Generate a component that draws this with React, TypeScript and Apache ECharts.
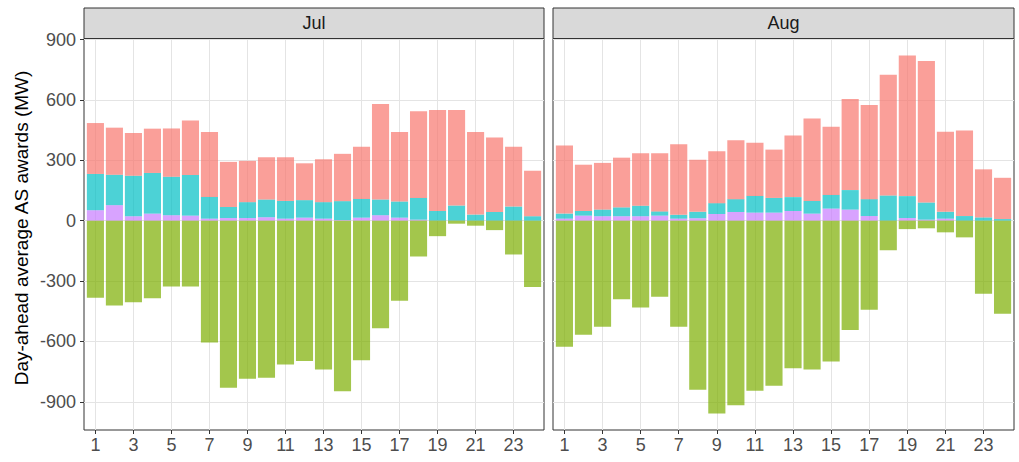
import React, { useEffect, useRef } from "react";
import * as echarts from "echarts";

const hours = [1, 2, 3, 4, 5, 6, 7, 8, 9, 10, 11, 12, 13, 14, 15, 16, 17, 18, 19, 20, 21, 22, 23, 24];
const xTickHours = [1, 3, 5, 7, 9, 11, 13, 15, 17, 19, 21, 23];
const yTicks = [-900, -600, -300, 0, 300, 600, 900];
const panels = ["Jul", "Aug"];

// Jul (MW)
const julPurple = [52, 77, 22, 35, 27, 25, 10, 13, 13, 17, 10, 15, 10, 3, 15, 27, 15, 5, 0, 0, 0, 0, 0, 0];
const julCyan = [180, 151, 201, 202, 191, 202, 108, 55, 79, 88, 88, 87, 82, 94, 93, 78, 80, 108, 48, 75, 30, 43, 70, 22];
const julRed = [253, 234, 212, 220, 240, 270, 322, 224, 205, 210, 217, 183, 213, 235, 259, 475, 345, 430, 502, 475, 410, 370, 297, 226];
const julGreen = [-383, -422, -405, -385, -327, -327, -605, -830, -785, -780, -715, -697, -740, -848, -693, -535, -398, -178, -77, -15, -25, -47, -168, -330];

// Aug (MW)
const augPurple = [10, 25, 22, 22, 22, 25, 10, 12, 33, 43, 40, 40, 48, 35, 60, 55, 23, 0, 13, 5, 10, 0, 0, 0];
const augCyan = [25, 23, 33, 44, 52, 21, 19, 32, 54, 64, 83, 73, 69, 63, 68, 97, 84, 125, 109, 85, 34, 23, 16, 8];
const augRed = [338, 230, 232, 247, 261, 289, 351, 259, 258, 293, 264, 240, 306, 409, 339, 453, 468, 600, 698, 703, 398, 425, 239, 205];
const augGreen = [-627, -567, -527, -390, -432, -378, -527, -840, -958, -917, -845, -820, -733, -740, -700, -543, -443, -147, -42, -38, -58, -83, -363, -462];

const COLORS = {
  purple: "rgba(199,124,255,0.7)",
  cyan: "rgba(0,191,196,0.7)",
  red: "rgba(248,118,109,0.7)",
  green: "rgba(124,174,0,0.7)",
};

const FONT = "Liberation Sans, Arial, Helvetica, sans-serif";
const PANEL_TOP = 38.5;
const PANEL_H = 391.5;
const Y_MIN = -1040;
const Y_MAX = 905;
const X_MIN = 0.4;
const X_MAX = 24.6;
const PANELS_X = [
  { left: 84, width: 460 },
  { left: 553, width: 461 },
];

export default function App() {
  const ref = useRef<HTMLDivElement>(null);

  useEffect(() => {
    if (!ref.current) return;
    const chart = echarts.init(ref.current, undefined, { renderer: "svg" });

    const data = [
      { purple: julPurple, cyan: julCyan, red: julRed, green: julGreen },
      { purple: augPurple, cyan: augCyan, red: augRed, green: augGreen },
    ];

    const grids: any[] = [];
    const xAxes: any[] = [];
    const yAxes: any[] = [];
    const series: any[] = [];

    PANELS_X.forEach((p) => {
      grids.push({
        left: p.left,
        top: PANEL_TOP,
        width: p.width,
        height: PANEL_H,
        show: true,
        borderColor: "#333333",
        borderWidth: 1,
        backgroundColor: "transparent",
      });
      const unit = p.width / (X_MAX - X_MIN);
      grids.push({
        left: p.left + (0.5 - X_MIN) * unit,
        top: PANEL_TOP,
        width: hours.length * unit,
        height: PANEL_H,
        show: false,
      });
    });

    PANELS_X.forEach((_, i) => {
      const frameGrid = i * 2;
      const barGrid = i * 2 + 1;
      xAxes.push({
        type: "value",
        gridIndex: frameGrid,
        position: "bottom",
        min: X_MIN,
        max: X_MAX,
        axisLine: { show: false, onZero: false },
        axisTick: {
          show: true,
          length: 4,
          customValues: xTickHours,
          lineStyle: { color: "#333333", width: 1 },
        },
        axisLabel: {
          show: true,
          customValues: xTickHours,
          color: "#4D4D4D",
          fontSize: 18,
          fontFamily: FONT,
          margin: 6,
        },
        splitLine: { show: true, lineStyle: { color: "#E4E4E4", width: 1 } },
      });
      yAxes.push({
        type: "value",
        gridIndex: frameGrid,
        position: "left",
        min: Y_MIN,
        max: Y_MAX,
        axisLine: { show: false, onZero: false },
        axisTick: {
          show: i === 0,
          length: 4,
          customValues: yTicks,
          lineStyle: { color: "#333333", width: 1 },
        },
        axisLabel: {
          show: i === 0,
          customValues: yTicks,
          color: "#4D4D4D",
          fontSize: 18,
          fontFamily: FONT,
          margin: 8,
        },
        splitLine: { show: true, lineStyle: { color: "#E4E4E4", width: 1 } },
      });
      xAxes.push({
        type: "category",
        gridIndex: barGrid,
        data: hours.map(String),
        boundaryGap: true,
        show: false,
        axisLine: { show: false, onZero: false },
        axisTick: { show: false },
        axisLabel: { show: false },
        splitLine: { show: false },
      });
      yAxes.push({
        type: "value",
        gridIndex: barGrid,
        min: Y_MIN,
        max: Y_MAX,
        show: false,
        axisLine: { show: false, onZero: false },
        axisTick: { show: false },
        axisLabel: { show: false },
        splitLine: { show: false },
      });
    });

    data.forEach((d, i) => {
      const stack = "s" + i;
      const axisIdx = i * 2 + 1;
      const add = (name: string, vals: number[], color: string) => {
        series.push({
          name,
          type: "bar",
          xAxisIndex: axisIdx,
          yAxisIndex: axisIdx,
          stack,
          barWidth: "90%",
          itemStyle: { color },
          data: vals,
        });
      };
      add("purple", d.purple, COLORS.purple);
      add("cyan", d.cyan, COLORS.cyan);
      add("red", d.red, COLORS.red);
      add("green", d.green, COLORS.green);
    });

    const graphics: any[] = [];
    PANELS_X.forEach((p, i) => {
      graphics.push({
        type: "rect",
        shape: { x: p.left, y: 8, width: p.width, height: PANEL_TOP - 8 },
        style: { fill: "#D9D9D9", stroke: "#333333", lineWidth: 1 },
        z: 10,
      });
      graphics.push({
        type: "text",
        x: p.left + p.width / 2,
        y: (8 + PANEL_TOP) / 2,
        style: {
          text: panels[i],
          fill: "#1A1A1A",
          fontSize: 18,
          fontFamily: FONT,
          textAlign: "center",
          textVerticalAlign: "middle",
        },
        z: 11,
      });
    });
    graphics.push({
      type: "text",
      x: 21,
      y: 228,
      rotation: Math.PI / 2,
      style: {
        text: "Day-ahead average AS awards (MW)",
        fill: "#000000",
        fontSize: 19,
        fontFamily: FONT,
        textAlign: "center",
        textVerticalAlign: "middle",
      },
      z: 11,
    });

    chart.setOption({
      animation: false,
      backgroundColor: "#ffffff",
      textStyle: { fontFamily: FONT },
      grid: grids,
      xAxis: xAxes,
      yAxis: yAxes,
      series,
      graphic: graphics,
    });

    return () => chart.dispose();
  }, []);

  return (
    <div
      ref={ref}
      style={{ position: "absolute", left: 0, top: 0, width: 1019, height: 462 }}
    />
  );
}
